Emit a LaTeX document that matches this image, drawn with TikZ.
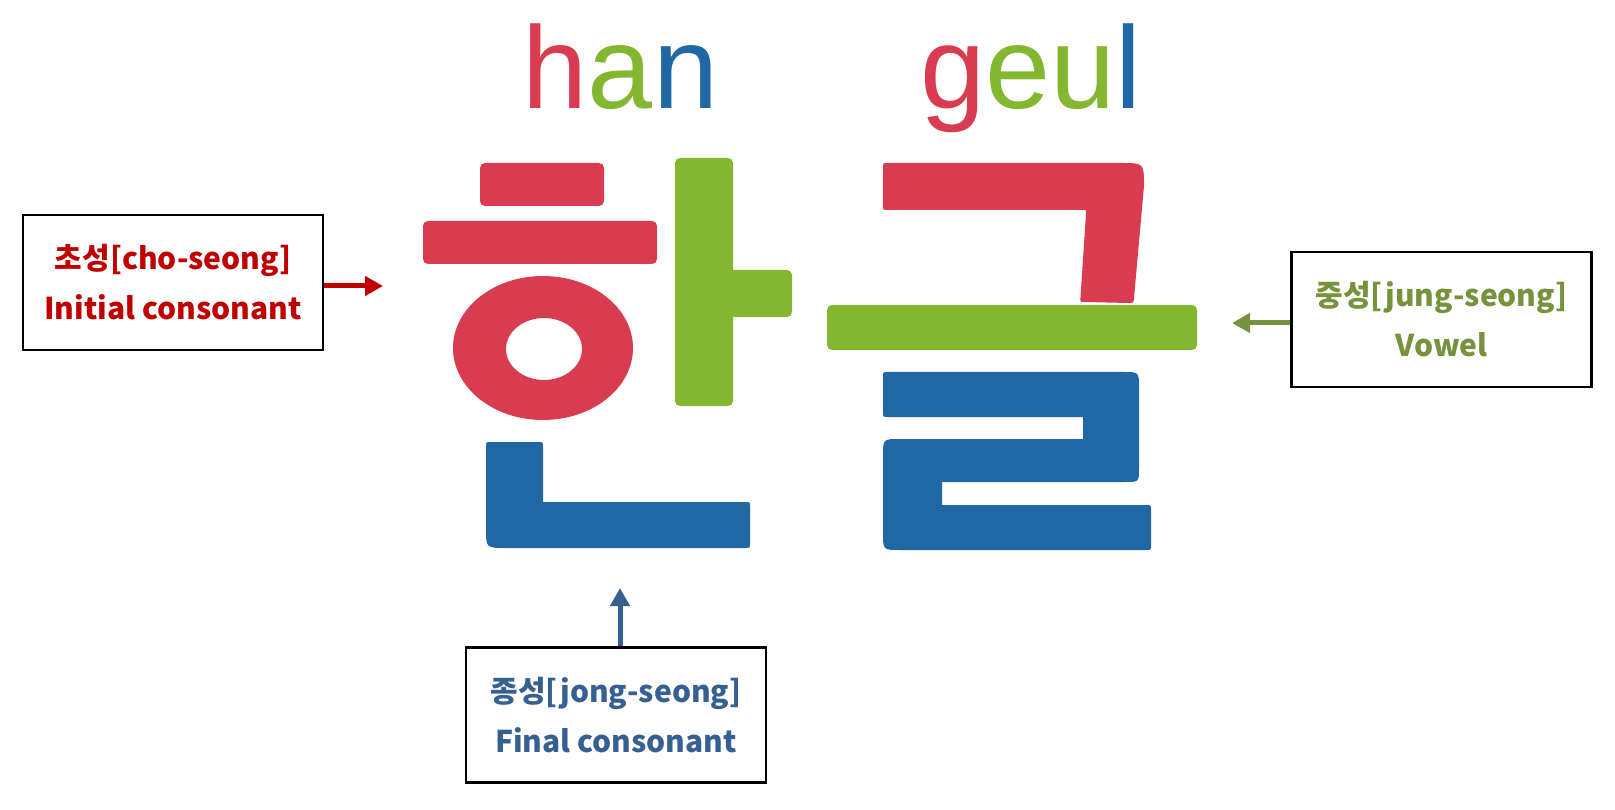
\documentclass[tikz,border=0pt]{standalone}
\usepackage{fontspec}
\setmainfont{Liberation Sans}
\newfontfamily\krfont{Noto Sans CJK KR}
\usetikzlibrary{arrows.meta,calc}
\definecolor{gred}{HTML}{D93C50}
\definecolor{ggreen}{HTML}{83B72F}
\definecolor{gblue}{HTML}{2068A5}
\definecolor{lred}{HTML}{C00000}
\definecolor{lgreen}{HTML}{76923C}
\definecolor{lblue}{HTML}{376092}
\tikzset{
  labelbox/.style={draw=black, line width=2.4pt, minimum width=300pt, minimum height=135pt, inner sep=0pt, fill=white},
  labeltext/.style={font=\krfont\bfseries\fontsize{30}{36}\selectfont, inner sep=0pt, anchor=base},
  romtext/.style={font=\fontsize{117}{120}\selectfont, inner sep=0pt, anchor=base},
  pointer/.style={line width=5pt, -{Triangle[length=18pt,width=19pt]}}
}
\begin{document}
\begin{tikzpicture}[x=1pt,y=-1pt]
\useasboundingbox (0,0) rectangle (1615,810);
% romanisation
\node[romtext] (han) at (620.5,109) {\textcolor{gred}{h}\textcolor{ggreen}{a}\textcolor{gblue}{n}};
\node[romtext] (geul) at (1031,109) {\textcolor{gred}{g}\textcolor{ggreen}{eu}\textcolor{gblue}{l}};
% ---- 한 ----
\fill[gred, rounded corners=5pt] (480,163) rectangle (604,206);
\fill[gred, rounded corners=5pt] (423,221) rectangle (657,264);
\fill[gred, even odd rule] (543,348) ellipse [x radius=90pt, y radius=72pt]
                           (544,349) ellipse [x radius=38pt, y radius=31pt];
\fill[ggreen, rounded corners=5pt] (675,158) rectangle (733,406);
\fill[ggreen, rounded corners=5pt] (720,270) rectangle (792,317);
\fill[gblue] (491,442) -- (538,442) .. controls (543,442) .. (543,447) -- (543,502)
  -- (745,502) .. controls (750,502) .. (750,507) -- (750,543) .. controls (750,548) .. (745,548)
  -- (506,548) .. controls (486,548) .. (486,528) -- (486,447) .. controls (486,442) .. (491,442) -- cycle;
% ---- 글 ----
\fill[gred] (888,163) -- (1121,163) .. controls (1144,163) .. (1144,186) -- (1134,298)
  .. controls (1133.5,303) .. (1129,303) -- (1085,302) .. controls (1080,302) .. (1080.5,297)
  -- (1086,214) .. controls (1086.5,210) .. (1082,210) -- (888,210) .. controls (883,210) .. (883,205)
  -- (883,168) .. controls (883,163) .. (888,163) -- cycle;
\fill[ggreen, rounded corners=5pt] (827,305) rectangle (1197,350);
\fill[gblue] (888,372) -- (1123,372) .. controls (1139,372) .. (1139,388) -- (1139,468)
  .. controls (1139,482) .. (1125,482) -- (942,482) -- (942,505) -- (1146,505)
  .. controls (1151,505) .. (1151,510) -- (1151,545) .. controls (1151,550) .. (1146,550)
  -- (900,550) .. controls (883,550) .. (883,533) -- (883,456) .. controls (883,439) .. (900,439)
  -- (1083,439) -- (1083,417) -- (888,417) .. controls (883,417) .. (883,412)
  -- (883,377) .. controls (883,372) .. (888,372) -- cycle;
% ---- label boxes ----
\node[labelbox] (cho) at (173,282.5) {};
\node[labeltext, text=lred] (cho1) at ($(cho.center)+(0,-13)$) {초성[cho-seong]};
\node[labeltext, text=lred] (cho2) at ($(cho.center)+(0,37)$) {Initial consonant};
\node[labelbox] (jung) at (1441.5,319.5) {};
\node[labeltext, text=lgreen] (jung1) at ($(jung.center)+(0,-13)$) {중성[jung-seong]};
\node[labeltext, text=lgreen] (jung2) at ($(jung.center)+(0,37)$) {Vowel};
\node[labelbox] (jong) at (616,715) {};
\node[labeltext, text=lblue] (jong1) at ($(jong.center)+(0,-13)$) {종성[jong-seong]};
\node[labeltext, text=lblue] (jong2) at ($(jong.center)+(0,37)$) {Final consonant};
% ---- pointers ----
\coordinate (choTip) at (383,286);
\coordinate (jungTip) at (1232,323);
\coordinate (jongTip) at (620,588);
\draw[pointer, lred] ($(cho.east)+(0,3.5)$) -- (choTip);
\draw[pointer, lgreen] ($(jung.west)+(0,3.5)$) -- (jungTip);
\draw[pointer, lblue] ($(jong.north)+(4,0)$) -- (jongTip);
\end{tikzpicture}
\end{document}
